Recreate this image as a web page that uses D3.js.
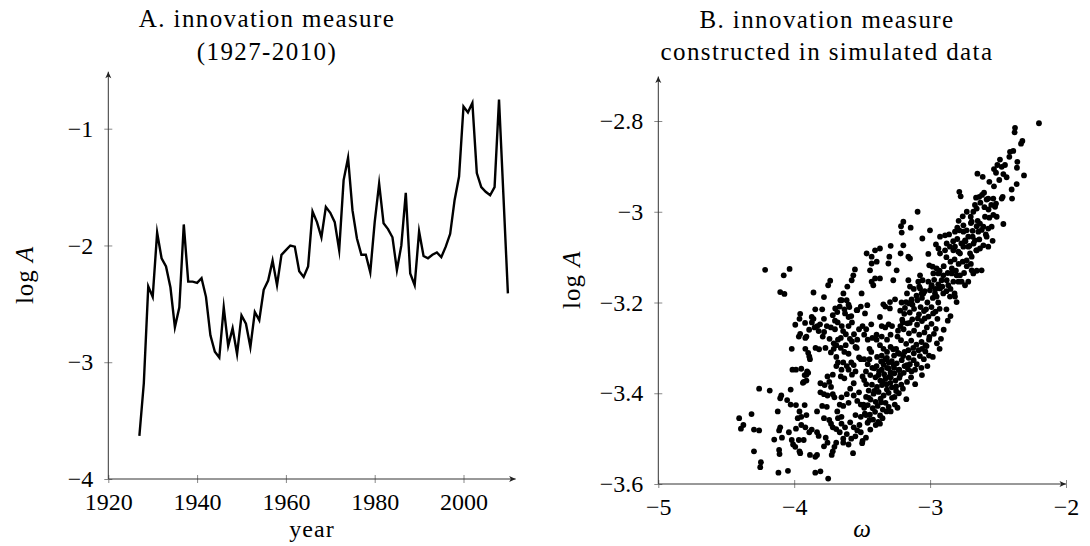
<!DOCTYPE html>
<html><head><meta charset="utf-8">
<script src="https://cdn.jsdelivr.net/npm/d3@7"></script>
<style>
body{margin:0;background:#fff}
svg text{font-family:"Liberation Serif","DejaVu Serif",serif;fill:#000}
</style></head><body>
<svg id="c" width="1090" height="546"></svg>
<script>
// ---------- Panel A data ----------
const years = [1927,1928,1929,1930,1931,1932,1933,1934,1935,1936,1937,1938,1939,1940,1941,1942,1943,1944,1945,1946,1947,1948,1949,1950,1951,1952,1953,1954,1955,1956,1957,1958,1959,1960,1961,1962,1963,1964,1965,1966,1967,1968,1969,1970,1971,1972,1973,1974,1975,1976,1977,1978,1979,1980,1981,1982,1983,1984,1985,1986,1987,1988,1989,1990,1991,1992,1993,1994,1995,1996,1997,1998,1999,2000,2001,2002,2003,2004,2005,2006,2007,2008,2009,2010];
const logAHist = [-3.63,-3.18,-2.35,-2.44,-1.89,-2.11,-2.18,-2.36,-2.70,-2.53,-1.82,-2.31,-2.31,-2.32,-2.28,-2.44,-2.77,-2.91,-2.96,-2.53,-2.86,-2.71,-2.93,-2.60,-2.67,-2.87,-2.57,-2.64,-2.38,-2.30,-2.13,-2.34,-2.08,-2.04,-2.00,-2.01,-2.22,-2.27,-2.18,-1.71,-1.80,-1.93,-1.67,-1.72,-1.80,-2.04,-1.44,-1.25,-1.70,-1.94,-2.08,-2.08,-2.23,-1.80,-1.47,-1.81,-1.86,-1.93,-2.21,-2.00,-1.55,-2.24,-2.34,-1.88,-2.09,-2.11,-2.08,-2.06,-2.10,-2.01,-1.90,-1.61,-1.41,-0.81,-0.86,-0.78,-1.38,-1.50,-1.54,-1.57,-1.50,-0.75,-1.58,-2.41];
const leftXTicks = [1920,1940,1960,1980,2000];
const leftYTicks = [-4,-3,-2,-1];

// ---------- Panel B data (omega, log A) ----------
const rightXTicks = [-5,-4,-3,-2];
const rightYTicks = [-3.6,-3.4,-3.2,-3,-2.8];
const simulated = [
[-2.199,-2.805],[-2.375,-2.815],[-2.378,-2.825],[-2.321,-2.844],[-2.331,-2.850],[-2.388,-2.866],[-2.412,-2.868],[-2.358,-2.890],[-2.486,-2.885],[-2.417,-2.879],
[-2.530,-2.906],[-2.505,-2.897],[-2.473,-2.901],[-2.449,-2.897],[-2.515,-2.914],[-2.461,-2.917],[-2.491,-2.930],[-2.437,-2.924],[-2.361,-2.903],[-2.309,-2.920],
[-2.363,-2.939],[-2.400,-2.951],[-2.397,-2.971],[-2.652,-2.916],[-2.613,-2.923],[-2.564,-2.934],[-2.530,-2.944],[-2.785,-2.956],[-2.775,-2.966],[-2.662,-2.969],
[-2.638,-2.967],[-2.603,-2.958],[-2.618,-2.963],[-2.572,-2.971],[-2.535,-2.971],[-2.584,-2.973],[-2.466,-2.967],[-2.473,-2.971],[-2.515,-2.982],[-2.522,-2.989],
[-2.657,-2.993],[-2.682,-3.000],[-3.092,-3.000],[-2.701,-3.011],[-2.694,-3.022],[-2.596,-3.011],[-2.564,-3.013],[-2.535,-3.007],[-2.510,-3.011],[-2.461,-3.027],
[-2.800,-3.035],[-2.755,-3.030],[-2.731,-3.041],[-2.657,-3.032],[-2.633,-3.026],[-2.687,-3.042],[-2.645,-3.044],[-2.608,-3.033],[-2.572,-3.037],[-2.547,-3.033],
[-3.214,-3.032],[-3.197,-3.022],[-3.143,-3.035],[-3.209,-3.046],[-3.001,-3.041],[-2.927,-3.055],[-2.890,-3.052],[-2.817,-3.044],[-2.785,-3.041],[-2.755,-3.044],
[-2.687,-3.055],[-2.670,-3.063],[-2.719,-3.055],[-2.743,-3.063],[-2.638,-3.061],[-2.584,-3.055],[-2.540,-3.064],[-2.608,-3.074],[-2.572,-3.077],[-3.057,-3.059],
[-2.957,-3.072],[-2.939,-3.081],[-2.927,-3.092],[-2.890,-3.085],[-2.854,-3.077],[-2.878,-3.070],[-2.829,-3.085],[-2.817,-3.077],[-2.792,-3.088],[-2.780,-3.092],
[-2.755,-3.077],[-2.719,-3.077],[-2.706,-3.092],[-2.657,-3.085],[-2.633,-3.081],[-2.694,-3.099],[-2.731,-3.107],[-3.405,-3.085],[-3.369,-3.081],[-3.430,-3.099],
[-3.467,-3.092],[-3.290,-3.075],[-3.197,-3.074],[-3.217,-3.092],[-3.160,-3.099],[-3.148,-3.103],[-3.013,-3.093],[-3.307,-3.114],[-3.300,-3.099],[-3.393,-3.110],
[-3.430,-3.114],[-3.246,-3.129],[-3.074,-3.140],[-3.055,-3.151],[-3.087,-3.154],[-3.006,-3.118],[-2.981,-3.121],[-2.952,-3.125],[-2.976,-3.136],[-2.939,-3.136],
[-2.903,-3.140],[-2.915,-3.151],[-2.878,-3.151],[-2.841,-3.136],[-2.805,-3.140],[-2.829,-3.154],[-2.792,-3.154],[-2.866,-3.162],[-2.768,-3.154],[-2.743,-3.162],
[-2.719,-3.154],[-2.682,-3.136],[-2.694,-3.129],[-2.657,-3.130],[-2.621,-3.129],[-3.013,-3.154],[-2.988,-3.162],[-3.001,-3.173],[-2.964,-3.180],[-2.927,-3.169],
[-2.952,-3.187],[-2.903,-3.180],[-2.854,-3.187],[-2.817,-3.187],[-2.805,-3.199],[-3.074,-3.169],[-3.062,-3.180],[-3.094,-3.195],[-3.148,-3.165],[-3.160,-3.151],
[-3.136,-3.193],[-3.177,-3.199],[-3.153,-3.202],[-3.258,-3.193],[-3.344,-3.204],[-3.295,-3.199],[-3.553,-3.127],[-3.565,-3.140],[-3.577,-3.151],[-3.609,-3.165],
[-3.638,-3.180],[-3.651,-3.195],[-3.614,-3.195],[-3.594,-3.210],[-3.626,-3.224],[-3.540,-3.217],[-3.504,-3.180],[-3.479,-3.224],[-3.462,-3.206],[-3.442,-3.129],
[-3.430,-3.154],[-3.418,-3.162],[-3.405,-3.147],[-3.369,-3.147],[-3.271,-3.151],
[-4.214,-3.128],[-4.077,-3.140],[-4.034,-3.126],[-4.103,-3.177],[-4.072,-3.181],[-3.858,-3.178],[-3.735,-3.152],[-3.750,-3.162],[-3.781,-3.188],[-3.794,-3.215],
[-3.845,-3.215],[-3.871,-3.232],[-3.858,-3.236],[-3.781,-3.236],[-3.716,-3.228],[-3.698,-3.213],[-3.683,-3.221],[-3.665,-3.209],
[-3.956,-3.225],[-3.961,-3.236],[-3.992,-3.249],[-3.956,-3.269],[-3.910,-3.275],[-3.870,-3.244],[-3.830,-3.252],[-3.810,-3.248],[-3.760,-3.252],[-3.730,-3.255],
[-3.820,-3.263],[-3.790,-3.275],[-3.700,-3.240],[-3.680,-3.244],[-3.650,-3.252],[-3.700,-3.259],[-3.640,-3.263],[-3.657,-3.278],[-3.600,-3.252],[-3.575,-3.244],
[-3.600,-3.232],[-3.536,-3.217],[-3.510,-3.209],[-3.497,-3.252],[-3.470,-3.259],[-3.433,-3.248],[-3.356,-3.252],[-3.330,-3.255],[-3.305,-3.248],[-3.280,-3.252],
[-3.369,-3.232],[-3.330,-3.209],[-3.296,-3.213],[-3.394,-3.271],[-3.356,-3.275],[-3.317,-3.282],[-3.291,-3.271],[-3.240,-3.275],[-3.219,-3.252],[-3.200,-3.244],
[-4.018,-3.302],[-3.918,-3.302],[-3.897,-3.311],[-3.966,-3.275],[-3.918,-3.278],[-3.843,-3.300],[-3.817,-3.303],[-3.889,-3.319],[-3.709,-3.290],[-3.690,-3.294],
[-3.678,-3.282],[-3.709,-3.302],[-3.657,-3.300],[-3.621,-3.294],[-3.631,-3.309],[-3.600,-3.313],[-3.639,-3.332],[-3.652,-3.348],[-3.613,-3.340],[-3.580,-3.332],
[-3.562,-3.338],[-3.523,-3.321],[-3.510,-3.325],[-3.459,-3.282],[-3.425,-3.278],[-3.394,-3.282],[-3.369,-3.294],[-3.343,-3.302],[-3.317,-3.309],[-3.291,-3.298],
[-3.433,-3.309],[-3.446,-3.325],[-3.356,-3.317],[-3.330,-3.325],[-3.304,-3.332],[-3.265,-3.317],[-3.227,-3.313],[-3.188,-3.309],[-3.124,-3.300],[-3.085,-3.305],
[-3.059,-3.302],[-3.034,-3.294],[-3.008,-3.282],[-3.008,-3.317],[-3.046,-3.325],[-3.098,-3.336],[-3.064,-3.344],[-2.930,-3.302],[-3.188,-3.340],[-3.149,-3.336],
[-3.227,-3.348],[-3.265,-3.344],[-3.137,-3.352],[-3.111,-3.348],[-3.394,-3.340],[-3.356,-3.348],[-3.317,-3.344],[-3.291,-3.354],
[-4.013,-3.348],[-3.987,-3.348],[-3.948,-3.346],[-3.905,-3.352],[-3.897,-3.355],[-3.930,-3.375],[-3.936,-3.377],[-3.910,-3.372],[-4.026,-3.392],[-4.180,-3.394],
[-4.258,-3.390],[-4.095,-3.405],[-4.103,-3.411],[-4.052,-3.415],[-4.026,-3.425],[-3.987,-3.426],[-3.923,-3.426],[-3.961,-3.440],[-3.948,-3.452],[-3.974,-3.455],
[-3.910,-3.448],[-3.918,-3.475],[-4.039,-3.486],[-4.121,-3.440],[-4.147,-3.502],[-4.090,-3.498],[-4.103,-3.475],[-4.111,-3.482],[-4.018,-3.503],[-4.008,-3.513],
[-3.992,-3.518],[-3.961,-3.528],[-3.956,-3.532],[-3.966,-3.503],[-3.930,-3.503],[-3.987,-3.478],[-3.948,-3.470],[-4.111,-3.525],[-4.108,-3.534],[-4.046,-3.571],
[-4.116,-3.575],[-4.245,-3.552],[-4.250,-3.563],[-4.296,-3.528],[-4.258,-3.482],[-4.296,-3.480],[-4.314,-3.446],[-4.405,-3.455],[-4.374,-3.470],[-4.392,-3.478],
[-3.889,-3.486],[-3.871,-3.480],[-3.884,-3.536],[-3.845,-3.540],[-3.832,-3.536],[-3.845,-3.575],[-3.807,-3.572],[-3.750,-3.588],[-3.832,-3.486],[-3.820,-3.494],
[-3.794,-3.428],[-3.760,-3.430],[-3.832,-3.440],[-3.776,-3.382],[-3.742,-3.375],[-3.729,-3.386],[-3.755,-3.405],[-3.704,-3.409],[-3.716,-3.402],[-3.807,-3.398],
[-3.781,-3.402],[-3.781,-3.455],[-3.742,-3.459],[-3.729,-3.467],[-3.716,-3.475],[-3.768,-3.498],[-3.755,-3.509],[-3.781,-3.517],[-3.716,-3.528],[-3.724,-3.536],
[-3.691,-3.479],[-3.652,-3.467],[-3.626,-3.475],[-3.665,-3.486],[-3.613,-3.490],[-3.678,-3.455],[-3.652,-3.452],[-3.683,-3.440],[-3.665,-3.425],[-3.639,-3.428],
[-3.600,-3.421],[-3.691,-3.509],[-3.639,-3.509],[-3.600,-3.513],[-3.567,-3.532],[-3.588,-3.464],[-3.562,-3.475],[-3.536,-3.482],[-3.510,-3.486],[-3.472,-3.498],
[-3.497,-3.505],[-3.652,-3.409],[-3.613,-3.402],[-3.588,-3.390],[-3.562,-3.378],[-3.657,-3.363],[-3.631,-3.367],[-3.562,-3.405],[-3.536,-3.417],[-3.510,-3.425],
[-3.485,-3.432],[-3.523,-3.398],[-3.549,-3.448],[-3.510,-3.452],[-3.472,-3.448],[-3.446,-3.459],[-3.369,-3.467],[-3.240,-3.432],[-3.175,-3.413],[-3.459,-3.336],
[-3.425,-3.344],[-3.472,-3.352],[-3.497,-3.363],[-3.485,-3.371],[-3.923,-3.360],[-3.910,-3.359],[-3.884,-3.325],[-3.678,-3.332],[-3.690,-3.340],[-3.716,-3.359],
[-3.755,-3.363],[-3.807,-3.378],[-3.600,-3.348],[-3.575,-3.359],[-3.549,-3.352],[-3.485,-3.325],[-3.446,-3.302],[-3.575,-3.286],[-3.536,-3.282],[-3.549,-3.298],
[-3.523,-3.259],[-3.485,-3.271],[-3.704,-3.518],[-3.639,-3.500],
[-3.220,-3.218],[-3.185,-3.212],[-3.150,-3.222],[-3.118,-3.214],[-3.082,-3.226],[-3.045,-3.219],[-3.012,-3.231],[-2.978,-3.224],[-2.946,-3.236],[-2.930,-3.214],
[-3.205,-3.238],[-3.168,-3.246],[-3.131,-3.237],[-3.096,-3.249],[-3.060,-3.241],[-3.024,-3.255],[-2.990,-3.247],[-2.958,-3.258],
[-3.236,-3.262],[-3.195,-3.259],[-3.156,-3.268],[-3.118,-3.262],[-3.080,-3.271],[-3.042,-3.266],[-3.005,-3.276],[-2.972,-3.269],
[-3.214,-3.283],[-3.176,-3.291],[-3.139,-3.284],[-3.101,-3.293],[-3.063,-3.287],[-3.026,-3.296],
[-3.250,-3.302],[-3.160,-3.305],[-3.120,-3.312],[-3.075,-3.318],[-3.035,-3.308],
[-3.100,-3.185],[-3.060,-3.190],[-3.020,-3.200],[-2.980,-3.190],[-2.940,-3.200],[-3.140,-3.198],[-3.040,-3.175],[-2.960,-3.170],[-2.990,-3.165],
[-2.900,-3.260],[-2.870,-3.240],[-2.920,-3.280],[-2.880,-3.215],[-2.850,-3.230],[-2.950,-3.290],
[-3.272,-3.303],[-3.236,-3.311],[-3.198,-3.318],[-3.158,-3.322],[-3.121,-3.327],
[-3.318,-3.322],[-3.282,-3.329],[-3.246,-3.334],[-3.209,-3.327],[-3.171,-3.338],
[-3.342,-3.337],[-3.305,-3.345],[-3.268,-3.338],[-3.231,-3.349],[-3.194,-3.355],[-3.162,-3.347],
[-3.375,-3.352],[-3.338,-3.358],[-3.301,-3.364],[-3.263,-3.356],[-3.226,-3.366],
[-3.402,-3.365],[-3.366,-3.372],[-3.329,-3.368],[-3.292,-3.377],[-3.255,-3.372],[-3.212,-3.381],
[-3.428,-3.381],[-3.391,-3.386],[-3.354,-3.382],[-3.318,-3.392],[-3.281,-3.387],
[-3.452,-3.394],[-3.416,-3.401],[-3.379,-3.397],[-3.342,-3.405],[-3.305,-3.399],[-3.262,-3.408],
[-3.471,-3.408],[-3.438,-3.414],[-3.401,-3.419],[-3.364,-3.412],[-3.328,-3.421],
[-3.459,-3.426],[-3.422,-3.433],[-3.386,-3.428],[-3.348,-3.436],[-3.305,-3.430],
[-3.443,-3.447],[-3.405,-3.441],[-3.368,-3.449],[-3.420,-3.458],[-3.382,-3.463],
[-3.350,-3.455],[-3.290,-3.440],[-3.260,-3.425],[-3.230,-3.400],[-3.200,-3.390],[-3.170,-3.375],[-3.140,-3.365],[-3.110,-3.380],
[-2.860,-3.050],[-2.830,-3.065],[-2.800,-3.060],[-2.770,-3.070],[-2.740,-3.065],[-2.710,-3.075],[-2.680,-3.070],[-2.660,-3.085],
[-2.880,-3.100],[-2.850,-3.110],[-2.820,-3.105],[-2.790,-3.115],[-2.760,-3.110],[-2.730,-3.120],[-2.700,-3.115],
[-2.930,-3.130],[-2.900,-3.120],[-2.870,-3.135],[-2.840,-3.125],[-2.810,-3.130],[-2.780,-3.140],[-2.750,-3.135],
[-2.970,-3.150],[-2.940,-3.160],[-2.910,-3.165],[-2.880,-3.175],[-2.850,-3.170],[-2.820,-3.180],
[-2.620,-3.040],[-2.590,-3.050],[-2.650,-3.020],[-2.700,-3.025],[-2.730,-3.000],[-2.760,-3.010],[-2.790,-3.020],
[-2.600,-2.990],[-2.630,-2.980],[-2.670,-2.985],[-2.570,-2.995],[-2.550,-2.985],
[-3.120,-3.170],[-3.080,-3.165],[-3.050,-3.180],[-3.170,-3.180],[-3.210,-3.200],[-3.190,-3.225],[-3.130,-3.205],[-3.070,-3.210],[-3.030,-3.215],[-2.990,-3.210],
[-2.960,-3.220],[-3.090,-3.235],[-3.150,-3.245],[-3.040,-3.235],
[-3.390,-3.320],[-3.360,-3.330],[-3.410,-3.345],[-3.380,-3.360],[-3.350,-3.375],[-3.320,-3.380],[-3.290,-3.365],[-3.250,-3.385],[-3.220,-3.360],[-3.440,-3.360],
[-3.470,-3.380],[-3.450,-3.410],[-3.410,-3.395],[-3.360,-3.420],[-3.320,-3.440],[-3.280,-3.410],[-3.250,-3.395],[-3.490,-3.425],[-3.480,-3.445],[-3.400,-3.470],
[-3.440,-3.480],[-3.460,-3.465],[-3.520,-3.470],[-3.550,-3.495],[-3.580,-3.500],[-3.500,-3.510],
[-3.920,-3.245],[-3.890,-3.260],[-3.850,-3.255],[-3.780,-3.265],[-3.740,-3.280],[-3.770,-3.300],[-3.730,-3.310],[-3.690,-3.320],[-3.620,-3.270],[-3.590,-3.280],
[-3.560,-3.270],[-3.540,-3.300],[-3.660,-3.195],[-3.630,-3.215],[-3.580,-3.230],[-3.600,-3.205],
[-3.060,-3.360],[-3.020,-3.340],[-2.980,-3.320]
];

// ---------- drawing ----------
const svg = d3.select("#c");
const FS = 24;

function arrowRight(g, x, y){
  g.append("path").attr("d",`M${x},${y} L${x-6.5},${y-3} L${x-4.8},${y} L${x-6.5},${y+3} Z`).attr("fill","#222");
}
function arrowUp(g, x, y){
  g.append("path").attr("d",`M${x},${y} L${x-3},${y+6.5} L${x},${y+4.8} L${x+3},${y+6.5} Z`).attr("fill","#222");
}

function styleAxis(g, orient){
  g.select(".domain").remove();
  g.attr("font-family",null).attr("font-size",null);
  g.selectAll(".tick line").attr("stroke","#888").attr("stroke-width",1);
  g.selectAll(".tick text").attr("font-size",FS).attr("fill","#000");
  if(orient==="bottom"){
    g.selectAll(".tick line").attr("y1",-4).attr("y2",4);
    g.selectAll(".tick text").attr("y",31).attr("dy",0);
  } else {
    g.selectAll(".tick line").attr("x1",-4).attr("x2",4);
    g.selectAll(".tick text").attr("x",-15).attr("dy","0.32em");
  }
}

// ---- Panel A ----
const xA = d3.scaleLinear().domain([1920,2010]).range([108.3,507.9]);
const yA = d3.scaleLinear().domain([-4,-1]).range([479,128.7]);
const gA = svg.append("g");

const axAx = gA.append("g").attr("transform",`translate(0,${yA(-4)})`)
  .call(d3.axisBottom(xA).tickValues(leftXTicks).tickFormat(d3.format("d")));
styleAxis(axAx,"bottom");
const axAy = gA.append("g").attr("transform",`translate(${xA(1920)},0)`)
  .call(d3.axisLeft(yA).tickValues(leftYTicks).tickFormat(d3.format("~g")));
styleAxis(axAy,"left");

gA.append("line").attr("x1",xA(1920)).attr("x2",xA(2011.75)).attr("y1",yA(-4)).attr("y2",yA(-4)).attr("stroke","#333").attr("stroke-width",1);
gA.append("line").attr("x1",xA(1920)).attr("x2",xA(1920)).attr("y1",yA(-4)).attr("y2",yA(-0.512)).attr("stroke","#333").attr("stroke-width",1);
arrowRight(gA, xA(2011.75), yA(-4));
arrowUp(gA, xA(1920), yA(-0.512));

const lineA = d3.line().x((d,i)=>xA(years[i])).y(d=>yA(d));
gA.append("path").datum(logAHist).attr("d",lineA).attr("fill","none")
  .attr("stroke","#000").attr("stroke-width",2.4).attr("stroke-linejoin","miter").attr("stroke-miterlimit",10);

gA.append("text").attr("x",267).attr("y",27).attr("text-anchor","middle").attr("font-size",25).attr("letter-spacing","1.4px").text("A. innovation measure");
gA.append("text").attr("x",267).attr("y",60).attr("text-anchor","middle").attr("font-size",25).attr("letter-spacing","1.4px").text("(1927-2010)");
gA.append("text").attr("x",(xA(1920)+xA(2011.75))/2).attr("y",537).attr("text-anchor","middle").attr("font-size",24).attr("letter-spacing","1px").text("year");
const ylA = gA.append("text").attr("transform",`translate(33,${(yA(-4)+yA(-0.512))/2}) rotate(-90)`).attr("text-anchor","middle").attr("font-size",25);
ylA.append("tspan").attr("letter-spacing","1px").text("log ");
ylA.append("tspan").attr("font-style","italic").text("A");

// ---- Panel B ----
const xB = d3.scaleLinear().domain([-5,-2]).range([658.3,1066]);
const yB = d3.scaleLinear().domain([-3.6,-2.8]).range([484,121]);
const gB = svg.append("g");

const axBx = gB.append("g").attr("transform",`translate(0,${yB(-3.6)})`)
  .call(d3.axisBottom(xB).tickValues(rightXTicks).tickFormat(d3.format("~g")));
styleAxis(axBx,"bottom");
const axBy = gB.append("g").attr("transform",`translate(${xB(-5)},0)`)
  .call(d3.axisLeft(yB).tickValues(rightYTicks).tickFormat(d3.format("~g")));
styleAxis(axBy,"left");

gB.append("line").attr("x1",xB(-5)).attr("x2",xB(-2)).attr("y1",yB(-3.6)).attr("y2",yB(-3.6)).attr("stroke","#333").attr("stroke-width",1);
gB.append("line").attr("x1",xB(-5)).attr("x2",xB(-5)).attr("y1",yB(-3.6)).attr("y2",yB(-2.702)).attr("stroke","#333").attr("stroke-width",1);
arrowRight(gB, xB(-2), yB(-3.6));
arrowUp(gB, xB(-5), yB(-2.702));

gB.append("g").selectAll("circle").data(simulated).join("circle")
  .attr("cx",d=>xB(d[0])).attr("cy",d=>yB(d[1])).attr("r",2.9).attr("fill","#000");

gB.append("text").attr("x",827).attr("y",28).attr("text-anchor","middle").attr("font-size",25).attr("letter-spacing","1.4px").text("B. innovation measure");
gB.append("text").attr("x",827).attr("y",60).attr("text-anchor","middle").attr("font-size",25).attr("letter-spacing","1.4px").text("constructed in simulated data");
gB.append("text").attr("x",(xB(-5)+xB(-2))/2).attr("y",537).attr("text-anchor","middle").attr("font-size",25).attr("font-style","italic").text("ω");
const ylB = gB.append("text").attr("transform",`translate(580,${(yB(-3.6)+yB(-2.702))/2}) rotate(-90)`).attr("text-anchor","middle").attr("font-size",25);
ylB.append("tspan").attr("letter-spacing","1px").text("log ");
ylB.append("tspan").attr("font-style","italic").text("A");
</script>
</body></html>
